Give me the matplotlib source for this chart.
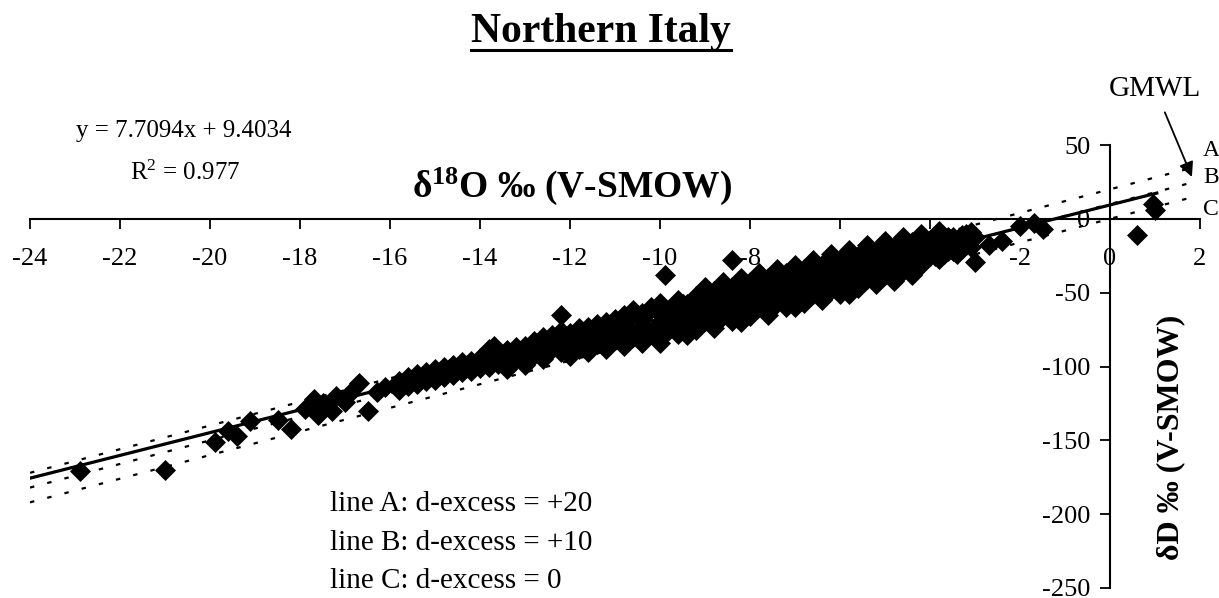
import numpy as np
import matplotlib
matplotlib.use("Agg")
import matplotlib.pyplot as plt
from matplotlib.lines import Line2D

plt.rcParams.update({
    'font.family': 'Liberation Serif',
    'mathtext.fontset': 'custom',
    'mathtext.rm': 'Liberation Serif',
    'mathtext.it': 'Liberation Serif:italic',
    'mathtext.bf': 'Liberation Serif:bold',
    'axes.unicode_minus': False,
})

# ---------- data: d18O vs dD of precipitation (permil V-SMOW) ----------
# sparse, most depleted samples
tail_x = [-22.9, -21.0, -19.9, -19.6, -19.4, -19.1, -18.5, -18.2, -17.9, -17.7,
          -17.6, -17.5, -17.3, -17.2, -17.0, -16.9, -16.7, -16.5, -16.3, -16.1]
tail_y = [-171, -170, -151, -144, -147, -137, -136, -142, -129, -122,
          -133, -125, -130, -120, -124, -118, -111, -130, -117, -114]

# narrow part of the main cloud
low_x = [-15.8, -15.8, -15.6, -15.6, -15.4, -15.4, -15.2, -15.2, -15.0, -15.0,
         -14.8, -14.8, -14.6, -14.6, -14.4, -14.4, -14.2, -14.2, -14.0, -14.0,
         -13.8, -13.8, -13.8, -13.6, -13.6, -13.4, -13.4, -13.4, -13.2, -13.2,
         -13.0, -13.0, -13.0, -12.8, -12.8, -12.6, -12.6, -12.6, -12.4, -12.4,
         -12.2, -12.2, -12.0, -12.0, -12.0, -11.8, -11.8, -11.6, -11.6, -11.6,
         -11.4, -11.4, -11.2, -11.2, -11.2, -11.0, -11.0,
         -15.7, -15.5, -15.3, -15.1, -14.9, -14.7, -14.5, -14.3, -14.1, -13.9,
         -13.7, -13.5, -13.3, -13.1, -12.9, -12.7, -12.5, -12.3, -12.1, -11.9,
         -11.7, -11.5, -11.3, -11.1, -10.9]
low_y = [-110, -116, -113, -107, -105, -112, -110, -104, -102, -109,
         -107, -100, -99, -106, -104, -97, -96, -103, -101, -94,
         -92, -100, -88, -98, -91, -89, -97, -102, -95, -87,
         -86, -94, -99, -92, -83, -80, -90, -95, -88, -79,
         -76, -90, -85, -77, -93, -74, -88, -83, -73, -90,
         -71, -85, -80, -70, -88, -68, -82,
         -111, -109, -107, -106, -104, -102, -101, -99, -98, -95,
         -86, -93, -91, -90, -88, -86, -85, -84, -82, -80,
         -79, -77, -76, -75, -73]

# wide part of the main cloud
band_x = [-10.8, -10.8, -10.8, -10.6, -10.6,
          -10.4, -10.4, -10.4, -10.2, -10.2,
          -10.0, -10.0, -10.0, -9.8, -9.8,
          -9.6, -9.6, -9.6, -9.4, -9.4,
          -9.2, -9.2, -9.2, -9.0, -9.0,
          -8.8, -8.8, -8.8, -8.6, -8.6,
          -8.4, -8.4, -8.4, -8.2, -8.2,
          -8.0, -8.0, -8.0, -7.8, -7.8,
          -7.6, -7.6, -7.6, -7.4, -7.4,
          -7.2, -7.2, -7.2, -7.0, -7.0,
          -6.8, -6.8, -6.8, -6.6, -6.6,
          -6.4, -6.4, -6.4, -6.2, -6.2,
          -6.0, -6.0, -6.0, -5.8, -5.8,
          -5.6, -5.6, -5.6, -5.4, -5.4,
          -5.2, -5.2, -5.2, -5.0, -5.0,
          -4.8, -4.8, -4.8, -4.6, -4.6,
          -4.4, -4.4, -4.4, -4.2, -4.2,
          -4.0, -4.0, -3.8, -3.8, -3.6, -3.6,
          -3.4, -3.4, -3.2, -3.2, -3.0, -3.0]
band_y = [-77, -65, -86, -62, -80,
          -74, -64, -84, -60, -77,
          -71, -57, -81, -62, -75,
          -68, -55, -78, -58, -72,
          -64, -52, -75, -56, -69,
          -62, -49, -72, -53, -66,
          -58, -46, -69, -50, -63,
          -55, -43, -66, -47, -60,
          -52, -40, -63, -44, -57,
          -49, -37, -60, -41, -54,
          -46, -34, -57, -38, -51,
          -43, -31, -54, -35, -48,
          -40, -28, -51, -32, -45,
          -37, -25, -47, -29, -41,
          -34, -22, -44, -26, -38,
          -31, -19, -42, -23, -35,
          -28, -16, -38, -20, -31,
          -25, -14, -17, -27, -22, -12,
          -14, -24, -18, -10, -29, -12]

# samples between the rows above
mid_x = [-10.7, -10.7, -10.5, -10.5, -10.3, -10.3, -10.1, -10.1, -9.9, -9.9,
         -9.7, -9.7, -9.5, -9.5, -9.3, -9.3, -9.1, -9.1, -8.9, -8.9,
         -8.7, -8.7, -8.5, -8.5, -8.3, -8.3, -8.1, -8.1, -7.9, -7.9,
         -7.7, -7.7, -7.5, -7.5, -7.3, -7.3, -7.1, -7.1, -6.9, -6.9,
         -6.7, -6.7, -6.5, -6.5, -6.3, -6.3, -6.1, -6.1, -5.9, -5.9,
         -5.7, -5.7, -5.5, -5.5, -5.3, -5.3, -5.1, -5.1, -4.9, -4.9,
         -4.7, -4.7, -4.5, -4.5, -4.3, -4.3, -4.1, -4.1, -3.9, -3.9,
         -3.7, -3.7, -3.5, -3.5, -3.3, -3.3, -3.1, -3.1]
mid_y = [-67, -78, -66, -76, -64, -75, -62, -73, -61, -72,
         -59, -70, -58, -69, -56, -67, -55, -66, -53, -64,
         -52, -63, -50, -61, -49, -60, -47, -58, -46, -57,
         -44, -55, -43, -53, -41, -52, -40, -50, -38, -49,
         -36, -47, -35, -46, -33, -44, -32, -43, -30, -41,
         -29, -40, -27, -38, -26, -36, -24, -35, -22, -33,
         -21, -32, -19, -30, -18, -29, -16, -27, -15, -25,
         -13, -24, -12, -22, -11, -20, -9, -19]

# upper and lower fringe of the wide part
edge_x = [-9.0, -8.6, -8.2, -7.8, -7.4, -7.0, -6.6, -6.2, -5.8, -5.4,
          -5.0, -4.6, -4.2, -3.8,
          -10.0, -9.4, -8.8, -8.2, -7.6, -7.0, -6.4, -5.8]
edge_y = [-46, -43, -40, -37, -34, -31, -28, -24, -21, -18,
          -15, -12, -10, -8,
          -84, -79, -74, -70, -65, -60, -55, -51]

# isolated samples and the enriched end
odd_x = [-12.2, -9.9, -8.4, -2.7, -2.4, -2.0, -1.7, -1.5, 0.6, 0.95, 1.0]
odd_y = [-65, -38, -28, -18, -15, -5, -3, -7, -11, 10, 6]

# least-squares fit shown on the chart
FIT_SLOPE = 7.7094
FIT_ICEPT = 9.4034
FIT_R2 = 0.977
FIT_XRANGE = [-24, 1.04]

# GMWL with three deuterium-excess values
GMWL_SLOPE = 8
DEXCESS = [20, 10, 0]
DEXCESS_NAMES = ['A', 'B', 'C']
DEXCESS_LABEL_Y = [46, 28, 6]
GMWL_XRANGE = [-24, 1.84]

XTICKS = list(range(-24, 3, 2))
YTICKS = list(range(-250, 51, 50))

# ---------- figure ----------
W, H = 1219, 598
fig = plt.figure(figsize=(W / 100, H / 100), dpi=100)
ax = fig.add_axes([30 / W, 10 / H, 1170 / W, 443 / H])

x = np.array(tail_x + low_x + band_x + mid_x + edge_x + odd_x)
y = np.array(tail_y + low_y + band_y + mid_y + edge_y + odd_y)
ax.plot(x, y, linestyle='none', marker='D', ms=10.5, mew=0.5,
        color='black', zorder=3)

fx = np.array(FIT_XRANGE)
ax.plot(fx, FIT_SLOPE * fx + FIT_ICEPT, color='black', lw=2.3, zorder=4)

gx = np.array(GMWL_XRANGE)
for d in DEXCESS:
    ax.plot(gx, GMWL_SLOPE * gx + d, color='black', lw=1.6,
            linestyle=(0, (2, 6)), zorder=4)

ax.set_xlim(-24, 2)
ax.set_ylim(-250, 50)
for side in ('top', 'right'):
    ax.spines[side].set_visible(False)
ax.spines['left'].set_position(('data', 0))
ax.spines['bottom'].set_position(('data', 0))
for side in ('left', 'bottom'):
    ax.spines[side].set_linewidth(1.5)
ax.set_xticks(XTICKS)
ax.set_yticks(YTICKS)
ax.tick_params(axis='x', direction='out', length=7, width=1.3, pad=14, labelsize=19)
ax.tick_params(axis='y', direction='out', length=7, width=1.3, pad=7, labelsize=19)

ax.set_xlabel('δ$^{\\mathbf{18}}$O ‰ (V-SMOW)', fontsize=27, fontweight='bold',
              va='baseline', ha='center')
ax.xaxis.set_label_coords(572 / W, 1 - 197 / H, transform=fig.transFigure)
ax.set_ylabel('δD ‰ (V-SMOW)', fontsize=23, fontweight='bold',
              rotation=90, va='center', ha='center')
ax.yaxis.set_label_coords(1171 / W, 1 - 437 / H, transform=fig.transFigure)

# GMWL arrow and line letters
ax.annotate('GMWL', xy=(1.82, 28.4), xytext=(1.0, 88), textcoords='data',
            ha='center', va='center', fontsize=21, annotation_clip=False,
            arrowprops=dict(arrowstyle='-|>', color='black', lw=1.3,
                            mutation_scale=22, shrinkA=6, shrinkB=0))
for name, ly in zip(DEXCESS_NAMES, DEXCESS_LABEL_Y):
    ax.text(2.07, ly, name, fontsize=17, ha='left', va='center', clip_on=False)

# fit equation
fig.text(184 / W, 1 - 137 / H, f'y = {FIT_SLOPE}x + {FIT_ICEPT}',
         fontsize=18, ha='center', va='baseline')
fig.text(185 / W, 1 - 180 / H, f'R$^2$ = {FIT_R2}',
         fontsize=18, ha='center', va='baseline')

# d-excess key
for i, (name, d) in enumerate(zip(DEXCESS_NAMES, DEXCESS)):
    sign = '+' if d > 0 else ''
    fig.text(330 / W, 1 - (511 + 38.5 * i) / H,
             f'line {name}: d-excess = {sign}{d}',
             fontsize=21, ha='left', va='baseline')

# underlined title
title = fig.text(601 / W, 1 - 42 / H, 'Northern Italy', fontsize=30,
                 fontweight='bold', ha='center', va='baseline')
fig.canvas.draw()
bb = title.get_window_extent()
uy = (H - 50) / H
fig.add_artist(Line2D([bb.x0 / W, bb.x1 / W], [uy, uy], color='black',
                      lw=2.2, transform=fig.transFigure))

fig.savefig('out.png', dpi=100)
